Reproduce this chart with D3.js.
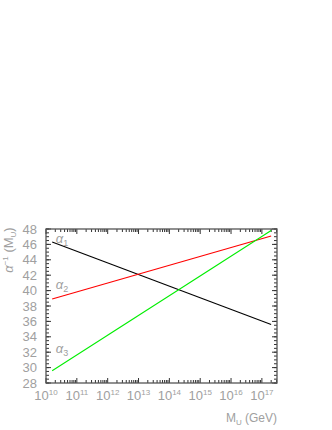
<!DOCTYPE html>
<html>
<head>
<meta charset="utf-8">
<script src="https://cdn.jsdelivr.net/npm/d3@7"></script>
<style>
  body { margin: 0; background: #fff; }
  text { font-family: "Liberation Sans", Arial, sans-serif; }
</style>
</head>
<body>
<div id="chart"></div>
<script>
// data: inverse couplings vs log10(M_U / GeV)
var logM = [10.2, 17.3];
var alpha1 = [46.3, 35.6];
var alpha2 = [38.9, 47.1];
var alpha3 = [29.6, 47.8];
var seriesNames = ["1", "2", "3"];
var seriesColors = ["#000000", "#ff0000", "#00ee00"];
var yTicks = [28, 30, 32, 34, 36, 38, 40, 42, 44, 46, 48];
var xDecades = [10, 11, 12, 13, 14, 15, 16, 17];

var svgWidth = 332, svgHeight = 430;
var margin = { top: 229, right: 55, bottom: 47, left: 46 };
var width = svgWidth - margin.left - margin.right;
var height = svgHeight - margin.top - margin.bottom;

var svg = d3.select("#chart").append("svg")
  .attr("width", svgWidth)
  .attr("height", svgHeight);

var g = svg.append("g")
  .attr("transform", `translate(${margin.left}, ${margin.top})`);

var x = d3.scaleLog().domain([1e10, Math.pow(10, 17.49)]).range([0, width]);
var y = d3.scaleLinear().domain([28, 48]).range([height, 0]);

var gray = "#a0a0a0";

// minor / major ticks, drawn inward on all four sides
var xMinor = [];
xDecades.forEach(function(d) {
  for (var k = 2; k <= 9; k++) {
    var v = k * Math.pow(10, d);
    if (v < x.domain()[1]) xMinor.push(v);
  }
});
var yMinor = d3.range(28, 48.01, 0.5);

function tickLines(data, isX, len, y0, dir) {
  g.append("g").selectAll("line").data(data).enter().append("line")
    .attr("x1", function(d) { return isX ? x(d) : y0; })
    .attr("x2", function(d) { return isX ? x(d) : y0 + dir * len; })
    .attr("y1", function(d) { return isX ? y0 : y(d); })
    .attr("y2", function(d) { return isX ? y0 + dir * len : y(d); })
    .attr("stroke", "#333")
    .attr("stroke-width", 1);
}
var xMajor = xDecades.map(function(d) { return Math.pow(10, d); });
tickLines(xMinor, true, 3, height, -1);
tickLines(xMajor, true, 5, height, -1);
tickLines(xMinor, true, 3, 0, 1);
tickLines(xMajor, true, 5, 0, 1);
tickLines(yMinor, false, 3, 0, 1);
tickLines(yTicks, false, 5, 0, 1);
tickLines(yMinor, false, 3, width, -1);
tickLines(yTicks, false, 5, width, -1);

// frame
g.append("rect")
  .attr("width", width).attr("height", height)
  .attr("fill", "none").attr("stroke", "#555").attr("stroke-width", 1.3);

// y tick labels
g.append("g").selectAll("text").data(yTicks).enter().append("text")
  .attr("x", -9)
  .attr("y", function(d) { return y(d); })
  .attr("dy", "0.36em")
  .attr("text-anchor", "end")
  .attr("fill", gray)
  .attr("font-size", 13)
  .text(function(d) { return d; });

// x tick labels 10^n
var xl = g.append("g").selectAll("text").data(xDecades).enter().append("text")
  .attr("x", function(d) { return x(Math.pow(10, d)); })
  .attr("y", height + 17)
  .attr("text-anchor", "middle")
  .attr("fill", gray)
  .attr("font-size", 13);
xl.append("tspan").text("10");
xl.append("tspan").attr("dy", -5).attr("font-size", 8).text(function(d) { return d; });

// lines
var lineGen = d3.line()
  .x(function(d) { return x(Math.pow(10, d[0])); })
  .y(function(d) { return y(d[1]); });
[alpha1, alpha2, alpha3].forEach(function(s, i) {
  g.append("path")
    .datum(logM.map(function(m, j) { return [m, s[j]]; }))
    .attr("d", lineGen)
    .attr("fill", "none")
    .attr("stroke", seriesColors[i])
    .attr("stroke-width", 1.1);
});

// series labels alpha_i
var labelPos = [[10.32, 46.2], [10.32, 40.2], [10.32, 31.9]];
labelPos.forEach(function(p, i) {
  var t = g.append("text")
    .attr("x", x(Math.pow(10, p[0])))
    .attr("y", y(p[1]))
    .attr("fill", gray)
    .attr("font-size", 13)
    .attr("font-style", "italic");
  t.append("tspan").text("\u03b1");
  t.append("tspan").attr("dy", 3).attr("font-size", 9).attr("font-style", "normal").text(seriesNames[i]);
});

// y axis title
var yt = svg.append("text")
  .attr("transform", "translate(13, 250) rotate(-90)")
  .attr("text-anchor", "middle")
  .attr("fill", gray)
  .attr("font-size", 13);
yt.append("tspan").attr("font-style", "italic").text("\u03b1");
yt.append("tspan").attr("dy", -5).attr("font-size", 8).text("\u22121");
yt.append("tspan").attr("dy", 5).text(" (M");
yt.append("tspan").attr("dy", 3).attr("font-size", 8).text("U");
yt.append("tspan").attr("dy", -3).text(")");

// x axis title
var xt = svg.append("text")
  .attr("x", margin.left + width)
  .attr("y", 422)
  .attr("text-anchor", "end")
  .attr("fill", gray)
  .attr("font-size", 12);
xt.append("tspan").text("M");
xt.append("tspan").attr("dy", 3).attr("font-size", 8).text("U");
xt.append("tspan").attr("dy", -3).text(" (GeV)");
</script>
</body>
</html>
